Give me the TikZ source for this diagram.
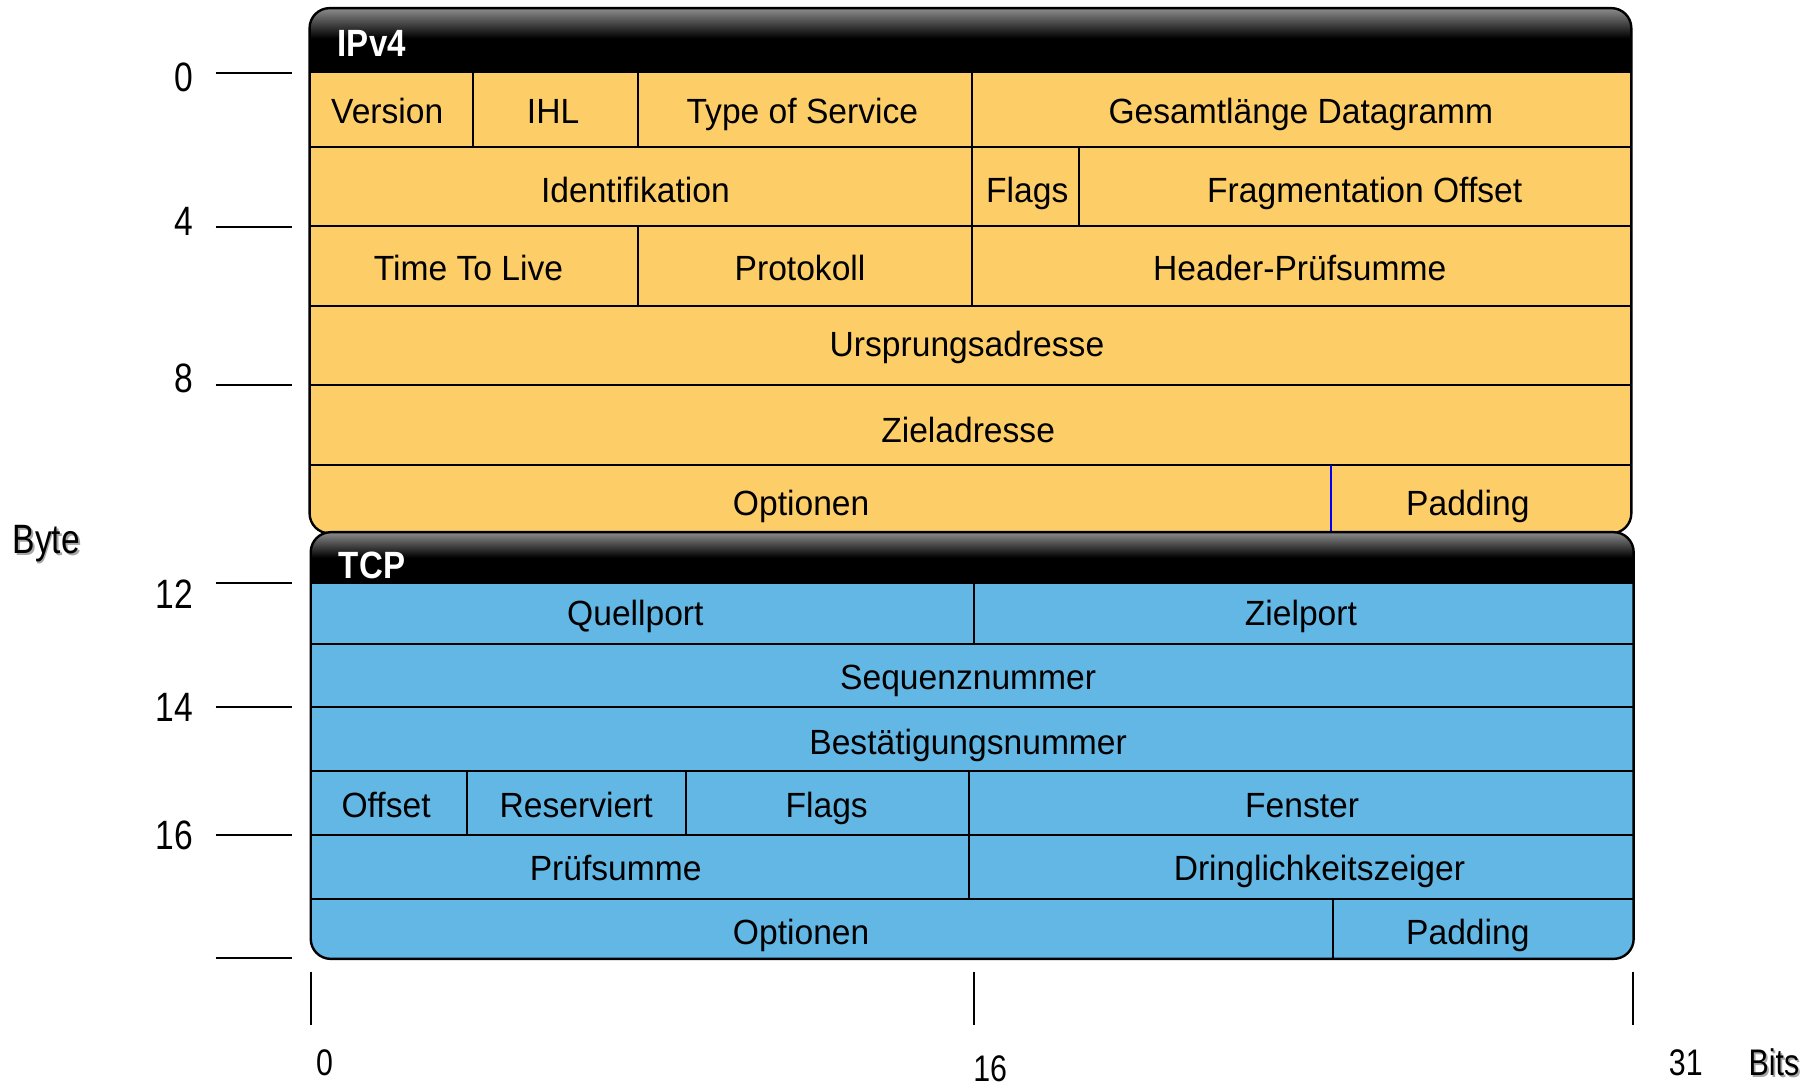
\documentclass[tikz,border=0pt]{standalone}
\usepackage{fontspec}
\setmainfont{Liberation Sans}
\newfontfamily\feldfont[FakeStretch=0.96]{Liberation Sans}
\newfontfamily\achsfont[FakeStretch=0.82]{Liberation Sans}
\newfontfamily\kopffont[FakeStretch=0.87]{Liberation Sans Bold}
\definecolor{ipgelb}{HTML}{FDCE67}
\definecolor{tcpblau}{HTML}{62B7E4}
\tikzset{
  feld/.style={font=\feldfont\fontsize{17.5}{20}\selectfont, inner sep=0pt, text height=12.5pt, text depth=0pt},
  kopf/.style={font=\kopffont\fontsize{19}{22}\selectfont, text=white, anchor=west, inner sep=0pt, text height=13.5pt, text depth=0pt},
  bytezahl/.style={font=\achsfont\fontsize{20.5}{24}\selectfont, anchor=east, inner sep=0pt, text height=14.7pt, text depth=0pt},
  bitzahl/.style={font=\achsfont\fontsize{18.5}{21}\selectfont, inner sep=0pt, text height=13.2pt, text depth=0pt},
  linie/.style={line width=1pt},
  rand/.style={line width=1.2pt, rounded corners=10},
  strich/.style={line width=1pt}
}
\begin{document}
\begin{tikzpicture}[x=0.5797pt, y=-0.5797pt]
\useasboundingbox (0,0) rectangle (1568,937);

% IPv4-Kopf
\begin{scope}
\clip[rounded corners=10] (267,7) rectangle (1407,460);
\fill[ipgelb] (267,7) rectangle (1407,460);
\fill[black] (267,7) rectangle (1407,62);
\shade[top color=black!45, bottom color=black] (267,7) rectangle (1407,33);
\end{scope}
\foreach \y in {62,127,195,264,332,401}
  \draw[linie] (267,\y) -- (1407,\y);
\foreach \x/\ya/\yb in {408/62/127, 550/62/127, 838/62/127, 838/127/195, 931/127/195, 550/195/264, 838/195/264}
  \draw[linie] (\x,\ya) -- (\x,\yb);
\draw[linie, blue] (1148,401) -- (1148,459);
\draw[rand] (267,7) rectangle (1407,460);
\node[kopf] (ipv4) at (291,37) {IPv4};

\foreach \x/\y/\t [count=\i] in {334/96/Version, 477/96/IHL, 692/96/Type of  Service, 1122/96/Gesamtlänge Datagramm,
    548/164/Identifikation, 886/164/Flags, 1177/164/Fragmentation Offset,
    404/231/Time To Live, 690/231/Protokoll, 1121/231/Header-Prüfsumme,
    834/297/Ursprungsadresse, 835/371/Zieladresse, 691/434/Optionen, 1266/434/Padding}
  \node[feld] (ip\i) at (\x,\y) {\t};

% TCP-Kopf
\begin{scope}
\clip[rounded corners=10] (268,459) rectangle (1409,827);
\fill[tcpblau] (268,459) rectangle (1409,827);
\fill[black] (268,459) rectangle (1409,503);
\shade[top color=black!45, bottom color=black] (268,459) rectangle (1409,481);
\end{scope}
\foreach \y in {503,555,610,665,720,775}
  \draw[linie] (268,\y) -- (1409,\y);
\foreach \x/\ya/\yb in {840/503/555, 403/665/720, 592/665/720, 836/665/720, 836/720/775, 1150/775/827}
  \draw[linie] (\x,\ya) -- (\x,\yb);
\draw[rand] (268,459) rectangle (1409,827);
\node[kopf] (tcp) at (292,487) {TCP};

\foreach \x/\y/\t [count=\i] in {548/529/Quellport, 1122/529/Zielport,
    835/584/Sequenznummer, 835/640/Bestätigungsnummer,
    333/694/Offset, 497/694/Reserviert, 713/694/Flags, 1123/694/Fenster,
    531/749/Prüfsumme, 1138/749/Dringlichkeitszeiger,
    691/804/Optionen, 1266/804/Padding}
  \node[feld] (tcp\i) at (\x,\y) {\t};

% Byte-Achse
\foreach \y in {63,196,332,503,610,720,826}
  \draw[strich] (186,\y) -- (252,\y);
\foreach \y/\t in {66/0, 190/4, 326/8, 512/12, 610/14, 720/16}
  \node[bytezahl] (byte\t) at (167,\y) {\t};
\node[bytezahl, anchor=center, text=black!35] at (41.5,466.5) {Byte};
\node[bytezahl, anchor=center] (byte) at (40,465) {Byte};

% Bit-Achse
\foreach \x in {268,840,1408}
  \draw[strich] (\x,838) -- (\x,884);
\node[bitzahl] (bit0) at (280,916) {0};
\node[bitzahl] (bit16) at (854,921) {16};
\node[bitzahl] (bit31) at (1454,916) {31};
\node[bitzahl, text=black!35] at (1531.5,917.5) {Bits};
\node[bitzahl] (bits) at (1530,916) {Bits};
\end{tikzpicture}
\end{document}
